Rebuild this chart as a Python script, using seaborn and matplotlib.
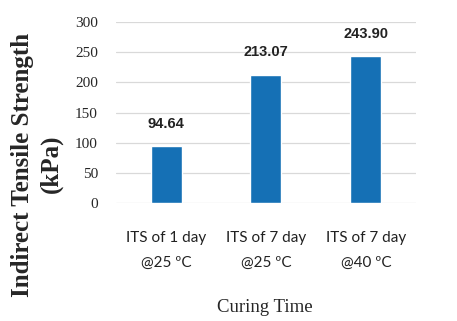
import matplotlib
matplotlib.use("Agg")
import matplotlib.pyplot as plt
import seaborn as sns
import pandas as pd

categories = ["ITS of 1 day\n@25 ºC", "ITS of 7 day\n@25 ºC", "ITS of 7 day\n@40 ºC"]
values = [94.64, 213.07, 243.90]
value_labels = ["94.64", "213.07", "243.90"]
yticks = [0, 50, 100, 150, 200, 250, 300]

df = pd.DataFrame({"cat": categories, "val": values})

sns.set_theme(style="white")
fig = plt.figure(figsize=(4.57, 3.21), dpi=100)
ax = fig.add_axes([0.254, 0.368, 0.656, 0.563])

sns.barplot(data=df, x="cat", y="val", color="#1570b5", saturation=1, width=0.31, ax=ax)

ax.set_ylim(0, 300)
ax.set_xlim(-0.5, 2.5)
ax.set_yticks(yticks)
ax.set_yticklabels([str(t) for t in yticks], family="Liberation Serif", fontsize=11)
ax.yaxis.grid(True, color="#d9d9d9", linewidth=0.9)
ax.set_axisbelow(True)
for s in ax.spines.values():
    s.set_visible(False)
ax.tick_params(axis="y", length=0, pad=13)
ax.tick_params(axis="x", length=0, pad=20)
for lab in ax.get_xticklabels():
    lab.set_family("Lato")
    lab.set_fontsize(11)
    lab.set_linespacing(2.0)
    lab.set_color("#222222")
ax.set_xlabel("")
ax.set_ylabel("")

for i, (v, t) in enumerate(zip(values, value_labels)):
    ax.annotate(t, (i, v), xytext=(0, 11), textcoords="offset points",
                ha="center", va="bottom", fontsize=10.5, family="Liberation Sans",
                fontweight="bold", color="#222222")

fig.text(0.58, 0.042, "Curing Time", ha="center", va="center",
         family="Liberation Serif", fontsize=13.5)
fig.text(0.05, 0.486, "Indirect Tensile Strength", rotation=90, ha="center",
         va="center", family="Liberation Serif", fontsize=18, fontweight="bold")
fig.text(0.112, 0.49, "(kPa)", rotation=90, ha="center",
         va="center", family="Liberation Serif", fontsize=18, fontweight="bold")

fig.savefig("out.png", dpi=100)
